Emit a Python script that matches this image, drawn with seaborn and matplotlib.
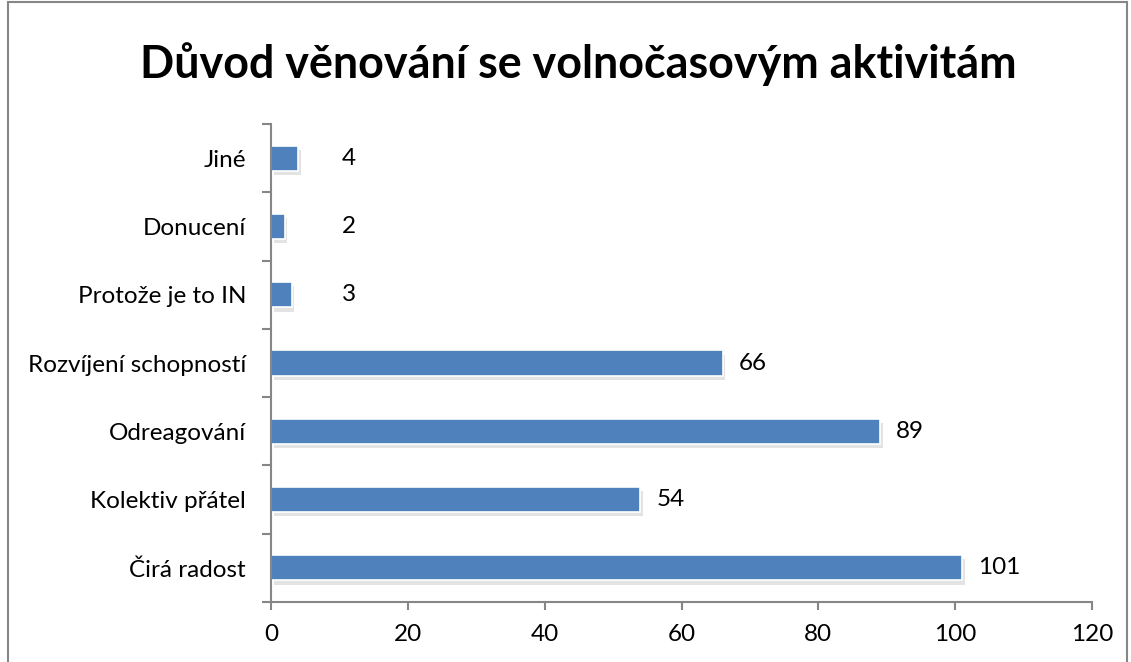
import matplotlib
matplotlib.use("Agg")
import matplotlib.pyplot as plt
import matplotlib.patheffects as pe
from matplotlib.patches import Rectangle
from matplotlib.ticker import FixedLocator
import pandas as pd
import seaborn as sns

# data, top to bottom as in the chart
reasons = ["Jiné", "Donucení", "Protože je to IN", "Rozvíjení schopností",
           "Odreagování", "Kolektiv přátel", "Čirá radost"]
counts = [4, 2, 3, 66, 89, 54, 101]
x_ticks = [0, 20, 40, 60, 80, 100, 120]

title = "Důvod věnování se volnočasovým aktivitám"
bar_color = "#4F81BD"
axis_gray = "#868686"

sns.set_theme(style="white")
plt.rcParams["font.family"] = ["Lato", "DejaVu Sans"]

df = pd.DataFrame({"reason": reasons, "count": counts})

fig = plt.figure(figsize=(11.31, 6.62), dpi=100)
ax = fig.add_axes([271 / 1131, 1 - 602 / 662, (1092 - 271) / 1131, (602 - 124) / 662])

sns.barplot(data=df, x="count", y="reason", order=reasons, orient="h",
            color=bar_color, saturation=1, width=0.37, ax=ax,
            edgecolor="white", linewidth=1.2)

for bar in ax.patches:
    bar.set_path_effects([pe.SimplePatchShadow(offset=(2, -3), alpha=0.22, shadow_rgbFace="gray"),
                          pe.Normal()])

# value labels
for i, v in enumerate(counts):
    ax.text(max(v + 2.4, 10.3), i, str(v), va="center", ha="left", fontsize=17.5, color="black")

ax.set_xlim(0, 120)
ax.set_ylim(len(reasons) - 0.5, -0.5)
ax.set_xticks(x_ticks)
ax.set_xticklabels([str(t) for t in x_ticks])
ax.set_xlabel("")
ax.set_ylabel("")

ax.yaxis.set_minor_locator(FixedLocator([i - 0.5 for i in range(len(reasons) + 1)]))
ax.tick_params(axis="y", which="major", length=0, pad=18, labelsize=17.5, labelcolor="black")
ax.tick_params(axis="y", which="minor", left=True, length=6.5, width=1.5, color=axis_gray)
ax.tick_params(axis="x", which="major", bottom=True, length=6, width=1.5, color=axis_gray,
               pad=10, labelsize=17.5, labelcolor="black")

for side in ["top", "right"]:
    ax.spines[side].set_visible(False)
for side in ["left", "bottom"]:
    ax.spines[side].set_color(axis_gray)
    ax.spines[side].set_linewidth(1.5)

fig.text(578 / 1131, 1 - 64 / 662, title, ha="center", va="center",
         fontsize=32.3, fontweight="bold", color="black")

# outer chart frame
fig.patches.append(Rectangle((8 / 1131, -0.1), (1127 - 8) / 1131, 1.1 - 2 / 662,
                             transform=fig.transFigure, fill=False,
                             edgecolor=axis_gray, linewidth=1.5))

fig.savefig("out.png", dpi=100)
